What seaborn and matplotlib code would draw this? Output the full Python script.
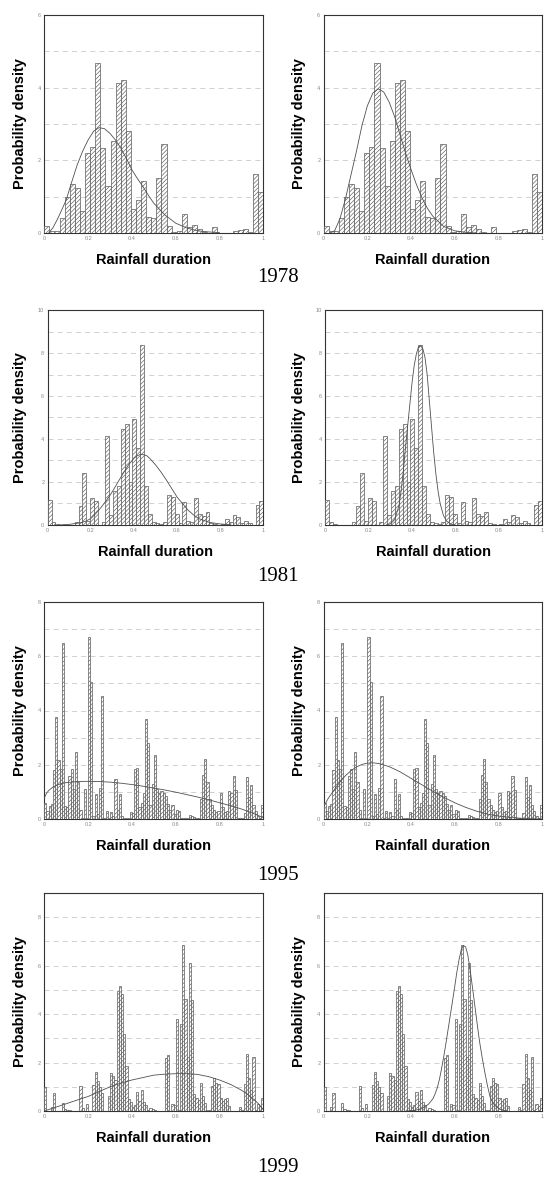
import numpy as np
import pandas as pd
import matplotlib
matplotlib.use("Agg")
import matplotlib.pyplot as plt
import seaborn as sns

sns.set_theme(style="white")
plt.rcParams['font.family'] = ['Liberation Sans', 'DejaVu Sans']
plt.rcParams['hatch.linewidth'] = 0.45

# ---------------- data ----------------
years = ["1978", "1981", "1995", "1999"]

heights_1978 = [0.20, 0.05, 0.05, 0.42, 1.00, 1.35, 1.25, 0.60, 2.20, 2.38,
                4.68, 2.33, 1.30, 2.52, 4.13, 4.22, 2.80, 0.67, 0.90, 1.43,
                0.45, 0.40, 1.52, 2.45, 0.20, 0.02, 0.05, 0.53, 0.17, 0.22,
                0.10, 0.02, 0.00, 0.17, 0.00, 0.00, 0.00, 0.05, 0.08, 0.10,
                0.02, 1.63, 1.13]

heights_1981 = [1.17, 0.15, 0.05, 0.00, 0.00, 0.02, 0.02, 0.15, 0.87, 2.42,
                0.20, 1.27, 1.13, 0.00, 0.15, 4.15, 0.45, 1.60, 1.80, 4.48,
                4.70, 2.02, 4.95, 3.58, 8.35, 1.80, 0.50, 0.15, 0.10, 0.05,
                0.15, 1.40, 1.28, 0.50, 0.10, 1.05, 0.20, 0.15, 1.25, 0.50,
                0.42, 0.60, 0.10, 0.05, 0.00, 0.05, 0.30, 0.15, 0.45, 0.35,
                0.10, 0.20, 0.10, 0.00, 0.95, 1.13]

heights_1995 = [0.58, 0.30, 0.48, 0.55, 1.82, 3.75, 2.18, 1.85, 6.50, 0.48,
                0.45, 1.60, 1.85, 1.12, 2.47, 1.35, 0.35, 0.02, 1.12, 0.05,
                6.72, 5.05, 0.10, 0.93, 0.20, 1.15, 4.55, 0.02, 0.30, 0.05,
                0.25, 0.12, 1.47, 0.35, 0.92, 0.10, 0.05, 0.05, 0.02, 0.25,
                0.22, 1.85, 1.88, 0.45, 0.60, 0.95, 3.68, 2.80, 0.50, 1.30,
                2.35, 1.10, 0.95, 1.05, 0.95, 0.85, 0.55, 0.35, 0.50, 0.20,
                0.35, 0.30, 0.02, 0.02, 0.05, 0.02, 0.15, 0.10, 0.08, 0.05,
                0.05, 0.75, 1.62, 2.20, 1.35, 0.75, 0.50, 0.35, 0.25, 0.28,
                0.97, 0.45, 0.25, 0.28, 1.03, 0.95, 1.60, 1.08, 0.05, 0.02,
                0.05, 0.22, 1.55, 0.82, 1.27, 0.50, 0.30, 0.12, 0.02, 0.52]

heights_1999 = [1.00, 0.02, 0.02, 0.15, 0.75, 0.00, 0.00, 0.00, 0.33, 0.10,
                0.05, 0.05, 0.00, 0.00, 0.00, 0.02, 1.05, 0.12, 0.00, 0.28,
                0.00, 0.00, 1.08, 1.62, 1.25, 1.00, 0.75, 0.00, 0.02, 0.62,
                1.55, 1.45, 1.28, 4.95, 5.18, 4.85, 3.18, 1.85, 0.48, 0.38,
                0.15, 0.25, 0.80, 0.40, 0.88, 0.38, 0.25, 0.05, 0.12, 0.08,
                0.05, 0.02, 0.00, 0.00, 0.02, 2.20, 2.32, 0.00, 0.28, 0.25,
                3.78, 0.05, 3.58, 6.85, 4.63, 2.25, 6.10, 4.60, 0.70, 0.55,
                0.45, 1.15, 0.62, 0.35, 0.05, 0.05, 1.02, 1.35, 1.15, 1.10,
                0.55, 0.40, 0.50, 0.55, 0.20, 0.00, 0.00, 0.00, 0.00, 0.15,
                0.05, 1.10, 2.35, 1.35, 0.85, 2.25, 0.05, 0.30, 0.20, 0.55]

# fitted curves (left = first fit, right = second fit)
curve_1978_left_x = [0.02, 0.04, 0.06, 0.08, 0.10, 0.125, 0.15, 0.175, 0.20, 0.225, 0.25, 0.275,
                     0.30, 0.325, 0.35, 0.375, 0.40, 0.425, 0.45, 0.475, 0.50, 0.55, 0.60, 0.65,
                     0.70, 0.75, 0.80]
curve_1978_left_y = [0.00, 0.15, 0.38, 0.64, 0.91, 1.40, 1.87, 2.25, 2.56, 2.80, 2.90, 2.87,
                     2.74, 2.56, 2.33, 2.05, 1.74, 1.50, 1.28, 1.04, 0.82, 0.50, 0.27, 0.14,
                     0.06, 0.03, 0.01]
curve_1978_right_x = [0.03, 0.05, 0.075, 0.10, 0.125, 0.15, 0.175, 0.20, 0.225, 0.25, 0.275, 0.30,
                      0.325, 0.35, 0.375, 0.40, 0.425, 0.45, 0.475, 0.50, 0.55, 0.60, 0.65, 0.70]
curve_1978_right_y = [0.00, 0.06, 0.40, 0.95, 1.60, 2.25, 2.95, 3.50, 3.85, 3.97, 3.88, 3.60,
                      3.20, 2.70, 2.20, 1.75, 1.33, 0.97, 0.68, 0.46, 0.18, 0.06, 0.02, 0.00]

curve_1981_left_x = [0.05, 0.10, 0.15, 0.175, 0.20, 0.225, 0.25, 0.275, 0.30, 0.325, 0.35, 0.375,
                     0.40, 0.415, 0.43, 0.445, 0.46, 0.475, 0.50, 0.525, 0.55, 0.575, 0.60, 0.625,
                     0.65, 0.675, 0.70, 0.75, 0.80, 0.85]
curve_1981_left_y = [0.00, 0.03, 0.10, 0.17, 0.30, 0.55, 0.85, 1.18, 1.55, 1.98, 2.40, 2.80,
                     3.10, 3.22, 3.28, 3.27, 3.22, 3.08, 2.80, 2.47, 2.10, 1.70, 1.30, 1.00,
                     0.70, 0.48, 0.30, 0.12, 0.05, 0.01]
curve_1981_right_x = [0.28, 0.30, 0.32, 0.34, 0.35, 0.36, 0.37, 0.38, 0.39, 0.40, 0.41, 0.42,
                      0.43, 0.44, 0.45, 0.46, 0.47, 0.48, 0.49, 0.50, 0.51, 0.52, 0.53, 0.545,
                      0.56, 0.58, 0.60]
curve_1981_right_y = [0.00, 0.05, 0.25, 0.90, 1.60, 2.50, 3.60, 4.60, 5.60, 6.60, 7.40, 7.95,
                      8.28, 8.34, 8.20, 7.80, 7.00, 5.80, 4.60, 3.40, 2.40, 1.60, 1.00, 0.45,
                      0.18, 0.04, 0.00]

curve_1995_left_x = [0.00, 0.01, 0.02, 0.04, 0.06, 0.08, 0.10, 0.15, 0.20, 0.25, 0.30, 0.35, 0.40,
                     0.45, 0.50, 0.55, 0.60, 0.65, 0.70, 0.75, 0.80, 0.85, 0.90, 0.95, 1.00]
curve_1995_left_y = [0.77, 0.95, 1.05, 1.18, 1.26, 1.31, 1.34, 1.38, 1.39, 1.38, 1.36, 1.32, 1.27,
                     1.21, 1.14, 1.07, 0.99, 0.90, 0.81, 0.71, 0.60, 0.49, 0.37, 0.22, 0.05]
curve_1995_right_x = [0.00, 0.02, 0.05, 0.075, 0.10, 0.125, 0.15, 0.175, 0.20, 0.225, 0.25, 0.30,
                      0.35, 0.40, 0.45, 0.50, 0.55, 0.60, 0.65, 0.70, 0.75, 0.80, 0.85, 0.90,
                      0.95, 1.00]
curve_1995_right_y = [0.45, 0.75, 1.10, 1.37, 1.60, 1.78, 1.92, 2.01, 2.06, 2.07, 2.05, 1.93,
                      1.74, 1.50, 1.26, 1.02, 0.80, 0.60, 0.43, 0.29, 0.18, 0.11, 0.06, 0.03,
                      0.01, 0.00]

curve_1999_left_x = [0.00, 0.05, 0.10, 0.15, 0.20, 0.25, 0.30, 0.35, 0.40, 0.45, 0.50, 0.55, 0.60,
                     0.65, 0.70, 0.75, 0.80, 0.85, 0.90, 0.93, 0.96, 0.98, 1.00]
curve_1999_left_y = [0.00, 0.15, 0.30, 0.45, 0.60, 0.80, 1.00, 1.15, 1.28, 1.38, 1.48, 1.52, 1.54,
                     1.54, 1.51, 1.42, 1.28, 1.10, 0.86, 0.68, 0.45, 0.28, 0.05]
curve_1999_right_x = [0.38, 0.42, 0.45, 0.48, 0.50, 0.51, 0.52, 0.53, 0.54, 0.55, 0.56, 0.573,
                      0.586, 0.598, 0.609, 0.62, 0.63, 0.64, 0.65, 0.66, 0.673, 0.683, 0.693,
                      0.703, 0.713, 0.726, 0.739, 0.75, 0.762, 0.775, 0.79, 0.81, 0.84]
curve_1999_right_y = [0.00, 0.03, 0.10, 0.28, 0.50, 0.70, 0.95, 1.30, 1.75, 2.25, 2.80, 3.55,
                      4.30, 5.00, 5.68, 6.25, 6.65, 6.83, 6.78, 6.45, 5.68, 5.00, 4.30,
                      3.60, 2.92, 2.20, 1.55, 1.05, 0.59, 0.33, 0.18, 0.06, 0.00]

x_ticks = [0, 0.2, 0.4, 0.6, 0.8, 1.0]
x_tick_labels = ["0", "0.2", "0.4", "0.6", "0.8", "1"]
y_max = {"1978": 6, "1981": 10, "1995": 8, "1999": 9}
y_tick_vals = {"1978": [0, 2, 4, 6], "1981": [0, 2, 4, 6, 8, 10],
               "1995": [0, 2, 4, 6, 8], "1999": [0, 2, 4, 6, 8]}
grid_top = {"1978": 5, "1981": 9, "1995": 7, "1999": 8}
x_label = "Rainfall duration"
y_label = "Probability density"

heights = {"1978": heights_1978, "1981": heights_1981,
           "1995": heights_1995, "1999": heights_1999}
curves = {
    "1978": [(curve_1978_left_x, curve_1978_left_y), (curve_1978_right_x, curve_1978_right_y)],
    "1981": [(curve_1981_left_x, curve_1981_left_y), (curve_1981_right_x, curve_1981_right_y)],
    "1995": [(curve_1995_left_x, curve_1995_left_y), (curve_1995_right_x, curve_1995_right_y)],
    "1999": [(curve_1999_left_x, curve_1999_left_y), (curve_1999_right_x, curve_1999_right_y)],
}

# ---------------- layout (pixels) ----------------
W, H = 545, 1180
rows_px = {"1978": (15, 233), "1981": (310, 525), "1995": (602, 819), "1999": (893, 1111)}
cols_px = {"1978": [(44.3, 263.3), (323.7, 542)],
           "1981": [(47.7, 263.3), (325.3, 542)],
           "1995": [(44.3, 263.3), (323.7, 542)],
           "1999": [(44.3, 263.3), (323.7, 542)]}
year_y = {"1978": 278, "1981": 576, "1995": 875, "1999": 1167}

fig = plt.figure(figsize=(W / 100, H / 100), dpi=100)
fig.patch.set_facecolor("white")

EDGE = "#5a5a5a"

for yr in years:
    top, bot = rows_px[yr]
    h = heights[yr]
    nb = len(h)
    edges = np.linspace(0, 1, nb + 1)
    centers = (edges[:-1] + edges[1:]) / 2
    df = pd.DataFrame({"x": centers, "w": h})
    for ci, (l, r) in enumerate(cols_px[yr]):
        ax = fig.add_axes([l / W, 1 - bot / H, (r - l) / W, (bot - top) / H])
        sns.histplot(data=df, x="x", weights="w", bins=edges.tolist(), stat="count",
                     ax=ax, color="white", edgecolor=EDGE, linewidth=0.5,
                     alpha=1, zorder=3)
        for p in ax.patches:
            p.set_hatch("////////")
        cx, cy = curves[yr][ci]
        sns.lineplot(x=cx, y=cy, ax=ax, color="#505050", linewidth=0.6,
                     sort=True, zorder=4)
        ax.set_xlim(0, 1)
        ax.set_ylim(0, y_max[yr])
        for gy in range(1, grid_top[yr] + 1):
            ax.axhline(gy, color="#c8c8c8", linewidth=0.6, linestyle=(0, (6, 5)), zorder=1)
        ax.set_xticks(x_ticks)
        ax.set_xticklabels(x_tick_labels)
        ax.set_yticks(y_tick_vals[yr])
        ax.set_yticklabels([str(v) for v in y_tick_vals[yr]])
        ax.tick_params(axis="both", length=0, labelsize=4, labelcolor="#8a8a8a", pad=2.5)
        for s in ax.spines.values():
            s.set_visible(True)
            s.set_color("#333333")
            s.set_linewidth(0.8)
        hpx = bot - top
        wpx = r - l
        ax.set_xlabel(x_label, fontsize=10.5, fontweight="bold", color="black")
        ax.xaxis.set_label_coords(0.5, -20 / hpx)
        ax.set_ylabel(y_label, fontsize=10.5, fontweight="bold", color="black")
        ax.yaxis.set_label_coords(-(l - 27) / wpx if ci == 0 else -(l - 306) / wpx, 0.5)
        ax.grid(False)
    fig.text(278 / W, 1 - year_y[yr] / H, yr, ha="center", va="center",
             fontsize=15, family=["Liberation Serif", "DejaVu Serif"], color="black")

fig.savefig("out.png", dpi=100, facecolor="white")
